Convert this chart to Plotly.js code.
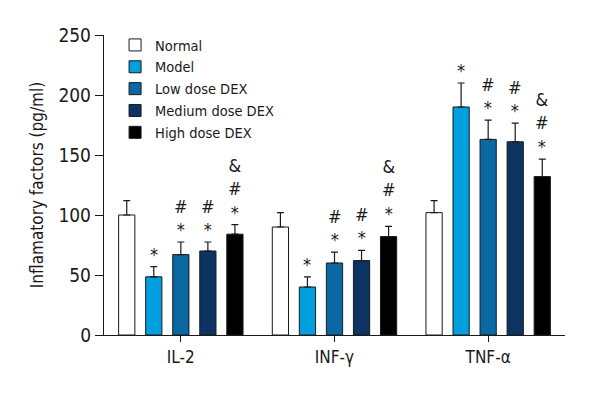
<!DOCTYPE html>
<html>
<head>
<meta charset="utf-8">
<script src="https://cdn.plot.ly/plotly-3.0.1.min.js"></script>
<style>
  html, body { margin: 0; padding: 0; background: white; }
  #chart { width: 600px; height: 400px; }
</style>
</head>
<body>
<div id="chart"></div>
<script>
// data
const CATEGORIES = ["IL-2", "INF-γ", "TNF-α"];
const GROUPS = ["Normal", "Model", "Low dose DEX", "Medium dose DEX", "High dose DEX"];
const COLORS = ["#ffffff", "#009fe0", "#0a69a3", "#0b3463", "#000000"];

const NORMAL = [100, 90, 102];
const MODEL  = [48.5, 40, 190];
const LOW    = [67, 60, 163];
const MEDIUM = [70, 62, 161];
const HIGH   = [84, 82, 132];
const VALUES = [NORMAL, MODEL, LOW, MEDIUM, HIGH];

const NORMAL_SD = [12, 12, 10];
const MODEL_SD  = [8.5, 8.5, 20];
const LOW_SD    = [10.5, 9, 16];
const MEDIUM_SD = [7.5, 8.5, 15.5];
const HIGH_SD   = [8, 8.5, 14.5];
const SDS = [NORMAL_SD, MODEL_SD, LOW_SD, MEDIUM_SD, HIGH_SD];

// significance marks above each bar (bottom to top)
const MARKS = [
  ["", "", ""],
  ["*", "*", "*"],
  ["*#", "*#", "*#"],
  ["*#", "*#", "*#"],
  ["*#&", "*#&", "*#&"],
];

const FONT = "'DejaVu Sans Condensed', 'Liberation Sans Narrow', 'Arial Narrow', sans-serif";
const BARGAP = 0.12;

const traces = GROUPS.map((name, j) => ({
  type: "bar",
  name: name,
  x: CATEGORIES,
  y: VALUES[j],
  marker: { color: COLORS[j], line: { color: "#1a1a1a", width: 1 } },
  error_y: {
    type: "data", array: SDS[j], arrayminus: SDS[j].map(() => 0),
    symmetric: false, color: "#1a1a1a", thickness: 1.2, width: 3.5,
  },
}));

// stacked symbols above the error bars
const annotations = [];
const slot = (1 - BARGAP) / GROUPS.length;
for (let j = 0; j < GROUPS.length; j++) {
  for (let i = 0; i < CATEGORIES.length; i++) {
    const m = MARKS[j][i];
    if (!m) continue;
    const text = m.split("").reverse().join("<br>");
    annotations.push({
      x: i + (j - (GROUPS.length - 1) / 2) * slot,
      y: VALUES[j][i] + SDS[j][i],
      xref: "x", yref: "y",
      text: text,
      showarrow: false,
      yanchor: "bottom",
      yshift: 0,
      font: { family: FONT, size: 18, color: "#1a1a1a" },
    });
  }
}

const layout = {
  width: 600, height: 400,
  margin: { l: 104, r: 35, t: 35, b: 65 },
  barmode: "group",
  bargap: BARGAP,
  bargroupgap: 0.4,
  plot_bgcolor: "white",
  paper_bgcolor: "white",
  font: { family: FONT, size: 16, color: "#1a1a1a" },
  xaxis: {
    type: "category",
    range: [-0.5, 2.5],
    showline: true, linecolor: "#1a1a1a", linewidth: 1.2,
    ticks: "outside", ticklen: 6, tickcolor: "#1a1a1a",
    showgrid: false, zeroline: false,
    tickfont: { family: FONT, size: 17 },
  },
  yaxis: {
    range: [0, 250],
    tickvals: [0, 50, 100, 150, 200, 250],
    showline: true, linecolor: "#1a1a1a", linewidth: 1.2,
    ticks: "outside", ticklen: 8, tickcolor: "#1a1a1a",
    showgrid: false, zeroline: false,
    tickfont: { family: FONT, size: 19 },
    title: { text: "Inflamatory factors (pg/ml)", font: { family: FONT, size: 17 }, standoff: 10 },
  },
  legend: {
    x: 0.024, xanchor: "left", y: 1.02, yanchor: "top",
    bgcolor: "rgba(0,0,0,0)",
    font: { family: FONT, size: 14.5 },
    tracegroupgap: 0,
    itemwidth: 30,
  },
  annotations: annotations,
};

Plotly.newPlot("chart", traces, layout, { displayModeBar: false, staticPlot: true });
</script>
</body>
</html>
